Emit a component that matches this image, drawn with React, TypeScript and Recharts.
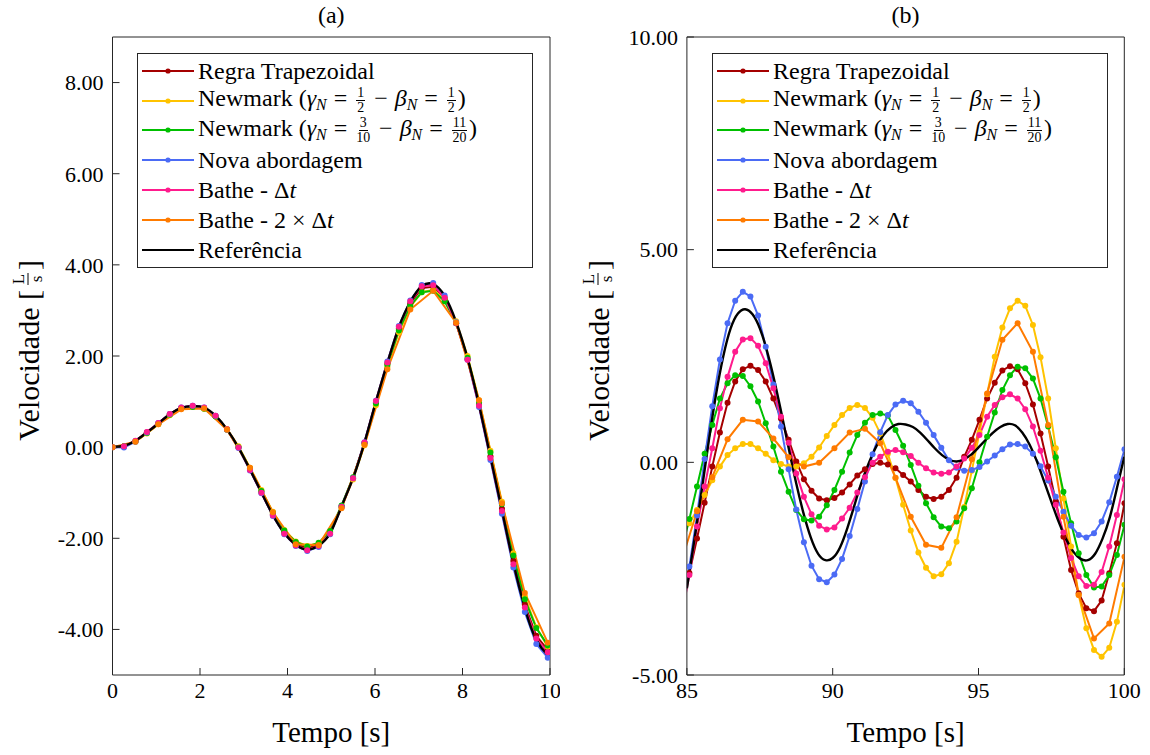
import React from 'react';
import { LineChart, Line, XAxis, YAxis, Legend } from 'recharts';

const FONT = "'Liberation Serif', 'Times New Roman', Tinos, 'DejaVu Serif', 'Noto Serif', serif";
const AXIS = '#262626';

// ---------- panel (a): 0..10 s, step pi/12 ----------
const timeA = [
  0, 0.262, 0.524, 0.785, 1.047, 1.309, 1.571, 1.833, 2.094, 2.356,
  2.618, 2.88, 3.142, 3.403, 3.665, 3.927, 4.189, 4.451, 4.712, 4.974,
  5.236, 5.498, 5.76, 6.021, 6.283, 6.545, 6.807, 7.069, 7.33, 7.592,
  7.854, 8.116, 8.378, 8.639, 8.901, 9.163, 9.425, 9.687, 9.948,
];
const timeA2 = [
  0, 0.524, 1.047, 1.571, 2.094, 2.618, 3.142, 3.665, 4.189, 4.712,
  5.236, 5.76, 6.283, 6.807, 7.33, 7.854, 8.378, 8.901, 9.425, 9.948,
];
const trapA = [
  0, 0.02, 0.13, 0.32, 0.52, 0.72, 0.86, 0.9, 0.86, 0.68,
  0.39, 0.0, -0.48, -0.98, -1.47, -1.87, -2.12, -2.22, -2.14, -1.88,
  -1.3, -0.68, 0.09, 0.98, 1.83, 2.6, 3.16, 3.49, 3.52, 3.27,
  2.72, 1.93, 0.93, -0.2, -1.35, -2.5, -3.46, -4.14, -4.45,
];
const nmHalfA = [
  0, 0.02, 0.12, 0.3, 0.5, 0.7, 0.84, 0.88, 0.84, 0.68,
  0.4, 0.02, -0.45, -0.94, -1.42, -1.82, -2.07, -2.17, -2.11, -1.86,
  -1.32, -0.71, 0.04, 0.92, 1.76, 2.52, 3.08, 3.4, 3.45, 3.24,
  2.76, 2.0, 1.03, -0.08, -1.2, -2.33, -3.28, -3.95, -4.38,
];
const nmTenA = [
  0, 0.02, 0.13, 0.31, 0.51, 0.71, 0.85, 0.88, 0.84, 0.67,
  0.38, 0.0, -0.47, -0.96, -1.44, -1.83, -2.08, -2.18, -2.1, -1.84,
  -1.28, -0.66, 0.09, 0.96, 1.8, 2.56, 3.1, 3.4, 3.43, 3.2,
  2.72, 1.96, 0.98, -0.12, -1.25, -2.38, -3.34, -3.97, -4.35,
];
const novaA = [
  0, -0.01, 0.12, 0.32, 0.53, 0.73, 0.87, 0.91, 0.87, 0.69,
  0.38, -0.02, -0.51, -1.01, -1.51, -1.91, -2.17, -2.28, -2.19, -1.91,
  -1.31, -0.68, 0.11, 1.02, 1.88, 2.66, 3.22, 3.56, 3.6, 3.33,
  2.74, 1.92, 0.88, -0.28, -1.46, -2.64, -3.62, -4.32, -4.62,
];
const batheA = [
  0, 0.02, 0.14, 0.33, 0.53, 0.73, 0.87, 0.91, 0.87, 0.69,
  0.39, -0.01, -0.5, -1.0, -1.5, -1.9, -2.16, -2.26, -2.17, -1.9,
  -1.31, -0.68, 0.1, 1.01, 1.86, 2.64, 3.2, 3.53, 3.55, 3.28,
  2.72, 1.92, 0.91, -0.24, -1.4, -2.57, -3.52, -4.2, -4.5,
];
const bathe2A = [
  0, 0.12, 0.5, 0.83, 0.85, 0.38, -0.45, -1.43, -2.13, -2.15,
  -1.34, 0.05, 1.71, 3.02, 3.43, 2.73, 1.03, -1.23, -3.2, -4.29,
];
const refTimeA = [...timeA, 10];
const refA = [
  0, 0.03, 0.14, 0.32, 0.52, 0.72, 0.86, 0.9, 0.87, 0.69,
  0.39, -0.01, -0.49, -0.99, -1.49, -1.89, -2.14, -2.25, -2.16, -1.89,
  -1.3, -0.68, 0.1, 1.0, 1.85, 2.63, 3.19, 3.53, 3.58, 3.32,
  2.75, 1.95, 0.93, -0.21, -1.38, -2.55, -3.53, -4.23, -4.56, -4.62,
];

// ---------- panel (b): 85..100 s ----------
const timeB = [
  84.823, 85.085, 85.347, 85.608, 85.87, 86.132, 86.394, 86.656, 86.917, 87.179,
  87.441, 87.703, 87.965, 88.226, 88.488, 88.75, 89.012, 89.273, 89.535, 89.797,
  90.059, 90.321, 90.582, 90.844, 91.106, 91.368, 91.63, 91.891, 92.153, 92.415,
  92.677, 92.939, 93.2, 93.462, 93.724, 93.986, 94.248, 94.51, 94.771, 95.033,
  95.295, 95.557, 95.819, 96.08, 96.342, 96.604, 96.866, 97.127, 97.389, 97.651,
  97.913, 98.175, 98.436, 98.698, 98.96, 99.222, 99.484, 99.746, 100.007,
];
const timeB2 = [
  84.823, 85.347, 85.87, 86.394, 86.917, 87.441, 87.965, 88.488, 89.012, 89.535,
  90.059, 90.582, 91.106, 91.63, 92.153, 92.677, 93.2, 93.724, 94.248, 94.771,
  95.295, 95.819, 96.342, 96.866, 97.389, 97.913, 98.436, 98.96, 99.484, 100.007,
];
const trapB = [
  -3.35, -2.6, -1.79, -0.95, -0.1, 0.7, 1.4, 1.9, 2.19, 2.27,
  2.17, 1.9, 1.5, 1.03, 0.53, 0.02, -0.4, -0.67, -0.85, -0.89,
  -0.84, -0.71, -0.52, -0.31, -0.16, -0.04, -0.01, -0.05, -0.14, -0.3,
  -0.45, -0.65, -0.81, -0.86, -0.81, -0.65, -0.36, 0.13, 0.53, 1.0,
  1.5, 1.87, 2.16, 2.26, 2.19, 1.86, 1.36, 0.68, -0.1, -0.92,
  -1.75, -2.53, -3.08, -3.43, -3.5, -3.25, -2.61, -1.9, -0.96,
];
const nmHalfB = [
  -1.7, -1.43, -1.12, -0.77, -0.42, -0.1, 0.17, 0.33, 0.43, 0.43,
  0.33, 0.2, 0.05, -0.04, -0.1, -0.1, -0.02, 0.13, 0.35, 0.62,
  0.88, 1.11, 1.28, 1.35, 1.28, 1.05, 0.68, 0.2, -0.37, -1.0,
  -1.6, -2.12, -2.48, -2.68, -2.63, -2.37, -1.87, -1.05, -0.2, 0.7,
  1.6, 2.48, 3.17, 3.62, 3.8, 3.68, 3.23, 2.47, 1.5, 0.33,
  -0.85, -1.98, -3.12, -3.9, -4.41, -4.57, -4.36, -3.75, -2.88,
];
const nmTenB = [
  -2.05, -1.33, -0.57, 0.2, 0.88, 1.5, 1.86, 2.05, 2.03, 1.79,
  1.43, 0.92, 0.37, -0.22, -0.69, -1.12, -1.34, -1.37, -1.28, -1.01,
  -0.65, -0.22, 0.23, 0.64, 0.93, 1.11, 1.15, 1.1, 0.76, 0.39,
  -0.06, -0.55, -0.96, -1.29, -1.51, -1.55, -1.39, -1.08, -0.61, 0.0,
  0.6, 1.17, 1.7, 2.05, 2.25, 2.21, 1.97, 1.5, 0.84, 0.12,
  -0.69, -1.43, -2.14, -2.65, -2.94, -2.92, -2.65, -2.18, -1.47,
];
const novaB = [
  -3.55, -2.45, -1.25, 0.08, 1.32, 2.42, 3.27, 3.8, 4.01, 3.9,
  3.45, 2.72, 1.83, 0.84, -0.16, -1.11, -1.88, -2.43, -2.75, -2.82,
  -2.64, -2.27, -1.73, -1.1, -0.45, 0.19, 0.71, 1.11, 1.36, 1.45,
  1.39, 1.19, 0.93, 0.64, 0.34, 0.05, -0.13, -0.2, -0.18, -0.11,
  0.02, 0.16, 0.31, 0.42, 0.43, 0.37, 0.2, -0.09, -0.43, -0.81,
  -1.16, -1.49, -1.71, -1.77, -1.67, -1.39, -0.94, -0.34, 0.31,
];
const batheB = [
  -3.6, -2.65, -1.51, -0.57, 0.33, 1.27, 2.01, 2.6, 2.89, 2.92,
  2.74, 2.33, 1.74, 1.07, 0.46, -0.26, -0.81, -1.22, -1.49, -1.58,
  -1.53, -1.32, -1.07, -0.71, -0.35, -0.01, 0.13, 0.25, 0.29, 0.24,
  0.15, -0.01, -0.14, -0.24, -0.27, -0.24, -0.1, 0.09, 0.34, 0.64,
  1.07, 1.35, 1.53, 1.6, 1.5, 1.25, 0.84, 0.27, -0.36, -1.0,
  -1.65, -2.25, -2.68, -2.91, -2.88, -2.58, -1.98, -1.24, -0.4,
];
const bathe2B = [
  -2.3, -1.15, -0.35, 0.54, 1.0, 0.96, 0.56, 0.12, -0.1, -0.01,
  0.33, 0.7, 0.79, 0.45, -0.36, -1.28, -1.94, -2.01, -1.29, 0.07,
  1.62, 2.88, 3.27, 2.6, 0.88, -1.28, -3.12, -4.14, -3.79, -2.22,
];
const refTimeB = [
  85, 85.25, 85.5, 85.75, 86, 86.25, 86.5, 86.75, 87, 87.25,
  87.5, 87.75, 88, 88.25, 88.5, 88.75, 89, 89.25, 89.5, 89.75,
  90, 90.25, 90.5, 90.75, 91, 91.25, 91.5, 91.75, 92, 92.25,
  92.5, 92.75, 93, 93.25, 93.5, 93.75, 94, 94.25, 94.5, 94.75,
  95, 95.25, 95.5, 95.75, 96, 96.25, 96.5, 96.75, 97, 97.25,
  97.5, 97.75, 98, 98.25, 98.5, 98.75, 99, 99.25, 99.5, 99.75,
  100,
];
const refB = [
  -2.96, -1.85, -0.7, 0.5, 1.6, 2.5, 3.15, 3.5, 3.6, 3.48,
  3.15, 2.61, 1.92, 1.13, 0.3, -0.5, -1.2, -1.77, -2.15, -2.3,
  -2.25, -2.0, -1.55, -1.0, -0.45, 0.0, 0.38, 0.65, 0.82, 0.9,
  0.89, 0.83, 0.7, 0.52, 0.33, 0.17, 0.06, 0.02, 0.07, 0.18,
  0.35, 0.53, 0.7, 0.83, 0.9, 0.87, 0.7, 0.42, 0.03, -0.45,
  -0.93, -1.4, -1.8, -2.1, -2.27, -2.3, -2.15, -1.8, -1.3, -0.6,
  0.13,
];

const xTicksA = [0, 2, 4, 6, 8, 10];
const yTicksA = [-4, -2, 0, 2, 4, 6, 8];
const xTicksB = [85, 90, 95, 100];
const yTicksB = [-5, 0, 5, 10];

const zip = (t: number[], v: number[]) => t.map((x, i) => ({ t: x, v: v[i] }));

const Sub = ({ children }: { children: React.ReactNode }) => (
  <sub style={{ fontSize: '0.66em', fontStyle: 'italic', verticalAlign: '-0.25em', lineHeight: 0 }}>{children}</sub>
);
const Op = ({ children }: { children: React.ReactNode }) => (
  <span style={{ margin: '0 7px' }}>{children}</span>
);
const Frac = ({ n, d }: { n: string; d: string }) => (
  <span
    style={{
      display: 'inline-flex',
      flexDirection: 'column',
      alignItems: 'center',
      verticalAlign: 'middle',
      fontSize: '0.58em',
      lineHeight: 1.0,
      margin: '0 2px',
    }}
  >
    <span style={{ borderBottom: '1px solid #000', padding: '0 1px' }}>{n}</span>
    <span>{d}</span>
  </span>
);

const LABELS: { color: string; marker: boolean; label: React.ReactNode }[] = [
  { color: '#A50000', marker: true, label: <>Regra Trapezoidal</> },
  {
    color: '#FFC300',
    marker: true,
    label: (
      <>
        Newmark (<i>γ</i><Sub>N</Sub><Op>=</Op><Frac n="1" d="2" /><Op>−</Op><i>β</i><Sub>N</Sub><Op>=</Op><Frac n="1" d="2" />)
      </>
    ),
  },
  {
    color: '#00C000',
    marker: true,
    label: (
      <>
        Newmark (<i>γ</i><Sub>N</Sub><Op>=</Op><Frac n="3" d="10" /><Op>−</Op><i>β</i><Sub>N</Sub><Op>=</Op><Frac n="11" d="20" />)
      </>
    ),
  },
  { color: '#4B6BF5', marker: true, label: <>Nova abordagem</> },
  { color: '#FF1B8D', marker: true, label: <>Bathe - Δ<i>t</i></> },
  { color: '#FF7B00', marker: true, label: <>Bathe - 2 × Δ<i>t</i></> },
  { color: '#000000', marker: false, label: <>Referência</> },
];

const LegendBox = () => (
  <div
    style={{
      border: `1px solid ${AXIS}`,
      background: '#fff',
      width: 396,
      height: 215,
      boxSizing: 'border-box',
      padding: '2px 0 0 4px',
      fontFamily: FONT,
      fontSize: 24,
      color: '#000',
    }}
  >
    {LABELS.map((s, i) => (
      <div key={i} style={{ display: 'flex', alignItems: 'center', height: 29.8 }}>
        <svg width={52} height={10} style={{ marginRight: 4, flex: 'none' }}>
          <line x1={0} x2={52} y1={5} y2={5} stroke={s.color} strokeWidth={2} />
          {s.marker && <circle cx={26} cy={5} r={2.6} fill={s.color} />}
        </svg>
        <span style={{ whiteSpace: 'nowrap', lineHeight: 1 }}>{s.label}</span>
      </div>
    ))}
  </div>
);

const VelLabel = (props: any) => {
  const vb = props.viewBox || { y: 0, height: 0 };
  const cy = vb.y + vb.height / 2;
  const cx = props.cxPos;
  return (
    <g transform={`translate(${cx},${cy}) rotate(-90)`} style={{ fontFamily: FONT }} fill="#000">
      <text x={66} y={0} textAnchor="end" dominantBaseline="central" fontSize={30} style={{ fontFamily: FONT }}>
        Velocidade [
      </text>
      <text x={77} y={-4} textAnchor="middle" fontSize={17} style={{ fontFamily: FONT }}>L</text>
      <line x1={71} x2={83} y1={0} y2={0} stroke="#000" strokeWidth={1} />
      <text x={77} y={14} textAnchor="middle" fontSize={17} style={{ fontFamily: FONT }}>s</text>
      <text x={86} y={0} dominantBaseline="central" fontSize={30} style={{ fontFamily: FONT }}>]</text>
    </g>
  );
};

type Series = { data: { t: number; v: number }[]; color: string; marker: boolean };

interface PanelProps {
  left: number;
  width: number;
  leftW: number;
  rightW: number;
  xDomain: [number, number];
  yDomain: [number, number];
  xTicks: number[];
  yTicks: number[];
  title: string;
  labelX: number;
  legendLeft: number;
  series: Series[];
}

const tickStyle = { fontSize: 22, fill: '#000', style: { fontFamily: FONT } };

const Panel = (p: PanelProps) => (
  <div style={{ position: 'absolute', left: p.left, top: 0 }}>
    <LineChart width={p.width} height={755} margin={{ top: 0, right: 0, bottom: 0, left: 0 }} style={{ fontFamily: FONT }}>
      <XAxis
        xAxisId="b"
        type="number"
        dataKey="t"
        domain={p.xDomain}
        ticks={p.xTicks}
        interval={0}
        allowDataOverflow
        height={80}
        tickSize={-7}
        tickMargin={14}
        stroke={AXIS}
        tick={tickStyle}
        label={{ value: 'Tempo [s]', position: 'insideBottom', offset: 13, fontSize: 29, fill: '#000', style: { fontFamily: FONT } }}
      />
      <XAxis
        xAxisId="t"
        type="number"
        orientation="top"
        domain={p.xDomain}
        ticks={p.xTicks}
        interval={0}
        allowDataOverflow
        height={37}
        tickSize={-7}
        tick={false}
        stroke={AXIS}
        label={{ value: p.title, position: 'insideTop', offset: 6, fontSize: 24, fill: '#000', style: { fontFamily: FONT } }}
      />
      <YAxis
        yAxisId="l"
        type="number"
        domain={p.yDomain}
        ticks={p.yTicks}
        interval={0}
        allowDataOverflow
        width={p.leftW}
        tickSize={-7}
        tickMargin={16}
        stroke={AXIS}
        tick={tickStyle}
        tickFormatter={(v: number) => v.toFixed(2)}
        label={<VelLabel cxPos={p.labelX} />}
      />
      <YAxis
        yAxisId="r"
        type="number"
        orientation="right"
        domain={p.yDomain}
        ticks={p.yTicks}
        interval={0}
        allowDataOverflow
        width={p.rightW}
        tickSize={-7}
        tick={false}
        stroke={AXIS}
      />
      <Legend
        layout="vertical"
        align="center"
        verticalAlign="middle"
        wrapperStyle={{ left: p.legendLeft, top: 53, width: 396 }}
        content={() => <LegendBox />}
      />
      {p.series.map((s, i) => (
        <Line
          key={i}
          xAxisId="b"
          yAxisId="l"
          data={s.data}
          dataKey="v"
          type={s.marker ? 'linear' : 'natural'}
          stroke={s.color}
          strokeWidth={s.marker ? 2 : 2.4}
          dot={s.marker ? { r: 3, fill: s.color, stroke: s.color, strokeWidth: 0 } : false}
          activeDot={false}
          isAnimationActive={false}
        />
      ))}
    </LineChart>
  </div>
);

const seriesA: Series[] = [
  { data: zip(timeA, trapA), color: LABELS[0].color, marker: true },
  { data: zip(timeA, nmHalfA), color: LABELS[1].color, marker: true },
  { data: zip(timeA, nmTenA), color: LABELS[2].color, marker: true },
  { data: zip(timeA, novaA), color: LABELS[3].color, marker: true },
  { data: zip(timeA, batheA), color: LABELS[4].color, marker: true },
  { data: zip(timeA2, bathe2A), color: LABELS[5].color, marker: true },
  { data: zip(refTimeA, refA), color: LABELS[6].color, marker: false },
];

const seriesB: Series[] = [
  { data: zip(timeB, trapB), color: LABELS[0].color, marker: true },
  { data: zip(timeB, nmHalfB), color: LABELS[1].color, marker: true },
  { data: zip(timeB, nmTenB), color: LABELS[2].color, marker: true },
  { data: zip(timeB, novaB), color: LABELS[3].color, marker: true },
  { data: zip(timeB, batheB), color: LABELS[4].color, marker: true },
  { data: zip(timeB2, bathe2B), color: LABELS[5].color, marker: true },
  { data: zip(refTimeB, refB), color: LABELS[6].color, marker: false },
];

export default function App() {
  return (
    <div style={{ position: 'absolute', left: 0, top: 0, width: 1150, height: 755, background: '#fff', fontFamily: FONT }}>
      <Panel
        left={0}
        width={560}
        leftW={112.5}
        rightW={10}
        xDomain={[0, 10]}
        yDomain={[-5, 9]}
        xTicks={xTicksA}
        yTicks={yTicksA}
        title="(a)"
        labelX={28}
        legendLeft={137}
        series={seriesA}
      />
      <Panel
        left={560}
        width={590}
        leftW={126.9}
        rightW={25.7}
        xDomain={[85, 100]}
        yDomain={[-5, 10]}
        xTicks={xTicksB}
        yTicks={yTicksB}
        title="(b)"
        labelX={38}
        legendLeft={152}
        series={seriesB}
      />
    </div>
  );
}
